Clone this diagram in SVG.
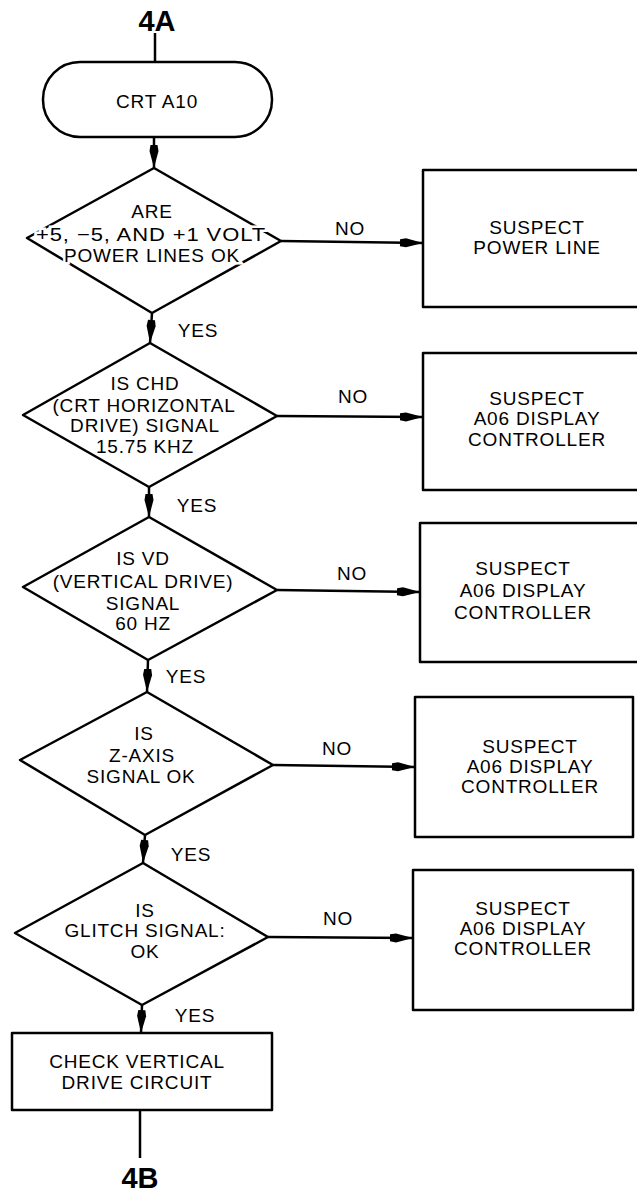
<svg xmlns="http://www.w3.org/2000/svg" width="637" height="1196" viewBox="0 0 637 1196">
<style>
.s{fill:none;stroke:#000;stroke-width:2.5;stroke-linejoin:round}
.n{fill:#fff;stroke:#000;stroke-width:2.5;stroke-linejoin:round}
.t{font-family:"Liberation Sans",Arial,sans-serif;font-size:19px;letter-spacing:0.8px;fill:#000;text-anchor:middle}
.h{paint-order:stroke;stroke:#fff;stroke-width:5px}
.b{font-family:"Liberation Sans",Arial,sans-serif;font-size:29px;font-weight:bold;fill:#000;text-anchor:middle}
</style>
<defs>
<marker id="ah" markerUnits="userSpaceOnUse" markerWidth="30" markerHeight="14" viewBox="-28 -7 30 14" refX="0" refY="0" orient="auto">
<path d="M0,0 L-17,-4.5 L-23,-3.5 L-23,3.5 L-17,4.5 Z" fill="#000"/>
</marker>
</defs>
<g id="connectors">
<line class="s" x1="155" y1="33" x2="155" y2="62"/>
<line class="s" x1="154" y1="137" x2="154" y2="168" marker-end="url(#ah)"/>
<line class="s" x1="152" y1="313" x2="150" y2="343" marker-end="url(#ah)"/>
<line class="s" x1="149" y1="487" x2="149" y2="517" marker-end="url(#ah)"/>
<line class="s" x1="148" y1="660" x2="147" y2="692" marker-end="url(#ah)"/>
<line class="s" x1="145" y1="835" x2="143" y2="863" marker-end="url(#ah)"/>
<line class="s" x1="142" y1="1005" x2="141" y2="1033" marker-end="url(#ah)"/>
<line class="s" x1="140" y1="1110" x2="140" y2="1158"/>
<line class="s" x1="281" y1="241" x2="423" y2="243" marker-end="url(#ah)"/>
<line class="s" x1="277" y1="416" x2="423" y2="417" marker-end="url(#ah)"/>
<line class="s" x1="277" y1="590" x2="420" y2="592" marker-end="url(#ah)"/>
<line class="s" x1="273" y1="765" x2="415" y2="767" marker-end="url(#ah)"/>
<line class="s" x1="268" y1="937" x2="413" y2="938" marker-end="url(#ah)"/>
<text class="t" x="350" y="235">NO</text>
<text class="t" x="353" y="403">NO</text>
<text class="t" x="352" y="580">NO</text>
<text class="t" x="337" y="755">NO</text>
<text class="t" x="338" y="925">NO</text>
<text class="t" x="198" y="337">YES</text>
<text class="t" x="197" y="512">YES</text>
<text class="t" x="186" y="683">YES</text>
<text class="t" x="191" y="861">YES</text>
<text class="t" x="195" y="1022">YES</text>
</g>
<g id="label-4A"><text class="b" x="157" y="31">4A</text></g>
<g id="start">
<rect class="n" x="43" y="62" width="229" height="75" rx="37" ry="37"/>
<text class="t" x="157" y="108">CRT A10</text>
</g>
<g id="d1">
<polygon class="n" points="154,168 281,241 152,313 27,238"/>
<text class="t h" x="152" y="218">ARE</text>
<text class="t h" x="151" y="241" textLength="230" lengthAdjust="spacingAndGlyphs">+5, −5, AND +1 VOLT</text>
<text class="t h" x="152" y="262">POWER LINES OK</text>
</g>
<g id="b1">
<rect class="n" x="423" y="170" width="230" height="137"/>
<text class="t" x="537" y="234">SUSPECT</text>
<text class="t" x="537" y="254">POWER LINE</text>
</g>
<g id="d2">
<polygon class="n" points="150,343 277,416 149,487 23,415"/>
<text class="t" x="145" y="390">IS CHD</text>
<text class="t" x="144" y="412">(CRT HORIZONTAL</text>
<text class="t" x="145" y="432">DRIVE) SIGNAL</text>
<text class="t" x="145" y="453">15.75 KHZ</text>
</g>
<g id="b2">
<rect class="n" x="423" y="353" width="230" height="137"/>
<text class="t" x="537" y="405">SUSPECT</text>
<text class="t" x="537" y="425">A06 DISPLAY</text>
<text class="t" x="537" y="446">CONTROLLER</text>
</g>
<g id="d3">
<polygon class="n" points="149,517 277,590 148,660 23,587"/>
<text class="t" x="143" y="565">IS VD</text>
<text class="t" x="143" y="588">(VERTICAL DRIVE)</text>
<text class="t" x="143" y="610">SIGNAL</text>
<text class="t" x="143" y="630">60 HZ</text>
</g>
<g id="b3">
<rect class="n" x="420" y="523" width="230" height="139"/>
<text class="t" x="523" y="575">SUSPECT</text>
<text class="t" x="523" y="597">A06 DISPLAY</text>
<text class="t" x="523" y="619">CONTROLLER</text>
</g>
<g id="d4">
<polygon class="n" points="147,692 273,765 145,835 20,760"/>
<text class="t" x="144" y="740">IS</text>
<text class="t" x="142" y="762">Z-AXIS</text>
<text class="t" x="141" y="783">SIGNAL OK</text>
</g>
<g id="b4">
<rect class="n" x="415" y="697" width="218" height="140"/>
<text class="t" x="530" y="753">SUSPECT</text>
<text class="t" x="530" y="773">A06 DISPLAY</text>
<text class="t" x="530" y="793">CONTROLLER</text>
</g>
<g id="d5">
<polygon class="n" points="143,863 268,937 142,1005 15,933"/>
<text class="t" x="145" y="917">IS</text>
<text class="t" x="145" y="937">GLITCH SIGNAL:</text>
<text class="t" x="145" y="958">OK</text>
</g>
<g id="b5">
<rect class="n" x="413" y="870" width="220" height="140"/>
<text class="t" x="523" y="915">SUSPECT</text>
<text class="t" x="523" y="935">A06 DISPLAY</text>
<text class="t" x="523" y="955">CONTROLLER</text>
</g>
<g id="check">
<rect class="n" x="12" y="1033" width="260" height="77"/>
<text class="t" x="137" y="1068">CHECK VERTICAL</text>
<text class="t" x="137" y="1089">DRIVE CIRCUIT</text>
</g>
<g id="label-4B"><text class="b" x="140" y="1188">4B</text></g>
</svg>
